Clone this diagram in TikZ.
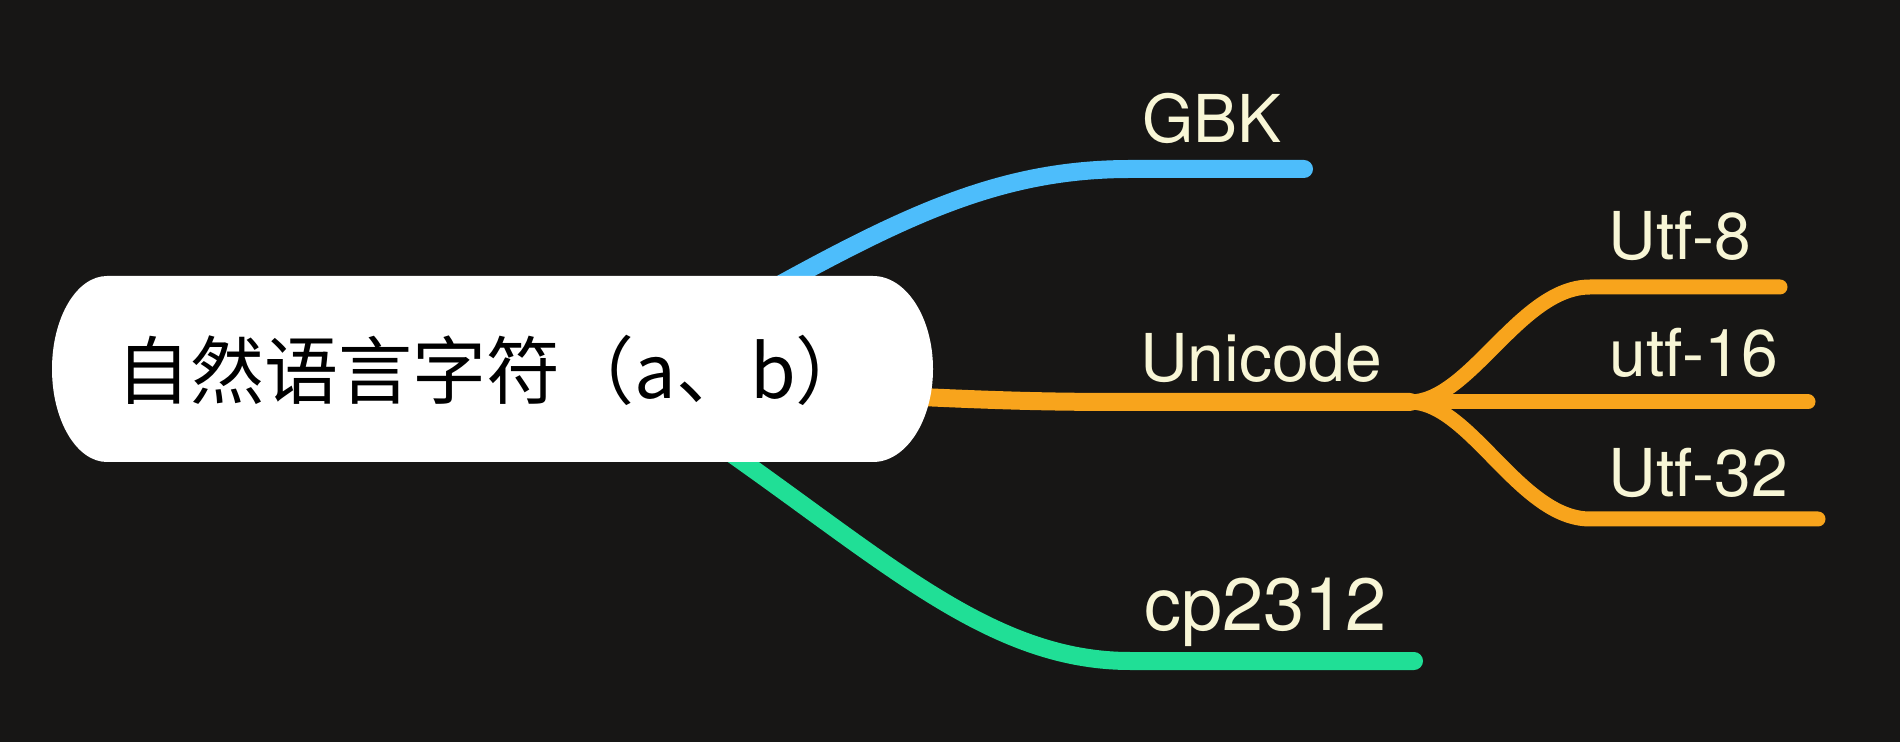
\documentclass[tikz,border=0pt]{standalone}
\usepackage{fontspec}
\setmainfont{TeX Gyre Heros}
\newfontfamily\cjk{Noto Sans CJK SC}
\definecolor{bg}{HTML}{171615}
\definecolor{lbl}{HTML}{F8F6D6}
\definecolor{cblue}{HTML}{4DBDFB}
\definecolor{corange}{HTML}{F8A41C}
\definecolor{cgreen}{HTML}{20DF96}
\begin{document}
\begin{tikzpicture}[x=0.5pt,y=-0.5pt,
  mainline/.style={line width=9pt, line cap=round},
  subline/.style={line width=7.5pt, line cap=round},
  lab/.style={text=lbl, inner sep=0pt, anchor=base west, font=\fontsize{33}{40}\selectfont},
  rootlab/.style={text=black, inner sep=0pt, anchor=base west, font=\cjk\fontsize{37}{44}\selectfont},
]
\fill[bg] (0,0) rectangle (1900,742);
\useasboundingbox (0,0) rectangle (1900,742);

% attachment coordinates
\coordinate (gbkroot) at (752,300);
\coordinate (gbkend) at (1304,169);
\coordinate (uniroot) at (880,395);
\coordinate (branch) at (1410,402);
\coordinate (u8end) at (1780,287);
\coordinate (u16end) at (1808,402);
\coordinate (u32end) at (1818,519);
\coordinate (cproot) at (712,440);
\coordinate (cpend) at (1414,661);

% connectors
\draw[mainline, cblue] (gbkroot) .. controls (905,215) and (1000,169) .. (1130,169) -- (gbkend);
\draw[mainline, corange] (uniroot) .. controls (1000,401) and (1050,402) .. (1130,402) -- (branch);
\draw[subline, corange] (branch) -- (u16end);
\draw[subline, corange] (branch) .. controls (1470,402) and (1520,287) .. (1590,287) -- (u8end);
\draw[subline, corange] (branch) .. controls (1470,402) and (1520,519) .. (1590,519) -- (u32end);
\draw[mainline, cgreen] (cproot) .. controls (885,560) and (990,661) .. (1130,661) -- (cpend);

% root shape
\fill[white] (107,276) -- (873,276)
  arc[start angle=-90, end angle=90, x radius=60, y radius=93]
  -- (107,462)
  arc[start angle=90, end angle=270, x radius=55, y radius=93] -- cycle;
\node[rootlab] (root) at (116,399) {自然语言字符（a、b）};

% labels
\node[lab] (gbk) at (1142,143) {GBK};
\node[lab] (unicode) at (1140,382) {Unicode};
\node[lab] (utf8) at (1608,260) {Utf-8};
\node[lab] (utf16) at (1609,377) {utf-16};
\node[lab] (utf32) at (1608,497) {Utf-32};
\node[lab, font=\fontsize{37}{44}\selectfont] (cp) at (1144,631) {cp2312};
\end{tikzpicture}
\end{document}
